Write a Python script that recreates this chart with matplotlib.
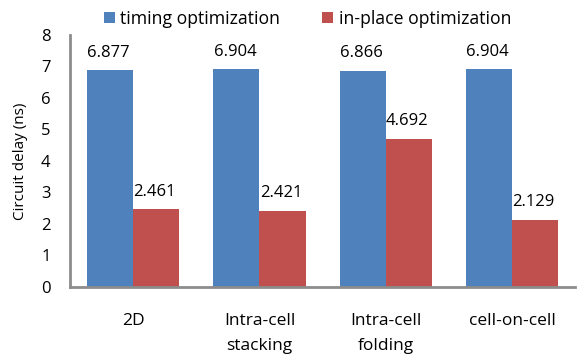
import numpy as np
import matplotlib
matplotlib.use("Agg")
import matplotlib.pyplot as plt

BLUE = "#4F81BD"
RED = "#C0504D"
AXIS = "#8C8C8C"

categories = ["2D", "Intra-cell\nstacking", "Intra-cell\nfolding", "cell-on-cell"]
timing = [6.877, 6.904, 6.866, 6.904]
inplace = [2.461, 2.421, 4.692, 2.129]
yticks = [0, 1, 2, 3, 4, 5, 6, 7, 8]

plt.rcParams["font.family"] = ["Open Sans", "DejaVu Sans"]

fig = plt.figure(figsize=(5.8, 3.56), dpi=100)
ax = fig.add_axes([0.1207, 0.194, 0.871, 0.708])

x = np.arange(len(categories))
w = 0.365
b1 = ax.bar(x - w / 2, timing, w, color=BLUE, label="timing optimization")
b2 = ax.bar(x + w / 2, inplace, w, color=RED, label="in-place optimization")

for bars, vals in ((b1, timing), (b2, inplace)):
    for r, v in zip(bars, vals):
        ax.annotate(f"{v:.3f}", (r.get_x() + r.get_width() / 2, v),
                    textcoords="offset points", xytext=(-1, 7),
                    ha="center", va="bottom", fontsize=12, color="black")

ax.set_xlim(-0.5, len(categories) - 0.5)
ax.set_ylim(0, 8)
ax.set_yticks(yticks)
ax.set_xticks(x)
ax.set_xticklabels(categories, fontsize=12.5, linespacing=1.7)
ax.tick_params(axis="x", length=0, pad=19)
ax.tick_params(axis="y", length=0, pad=14, labelsize=12)
ax.set_ylabel("Circuit delay (ns)", fontsize=11, labelpad=9)

for s in ("top", "right"):
    ax.spines[s].set_visible(False)
for s in ("left", "bottom"):
    ax.spines[s].set_color(AXIS)
    ax.spines[s].set_linewidth(2)

ax.legend(loc="lower center", bbox_to_anchor=(0.47, 1.0), ncol=2, frameon=False,
          fontsize=12.7, handlelength=0.63, handleheight=0.63, handletextpad=0.3,
          columnspacing=2.4, borderaxespad=0)

fig.savefig("out.png", dpi=100)
